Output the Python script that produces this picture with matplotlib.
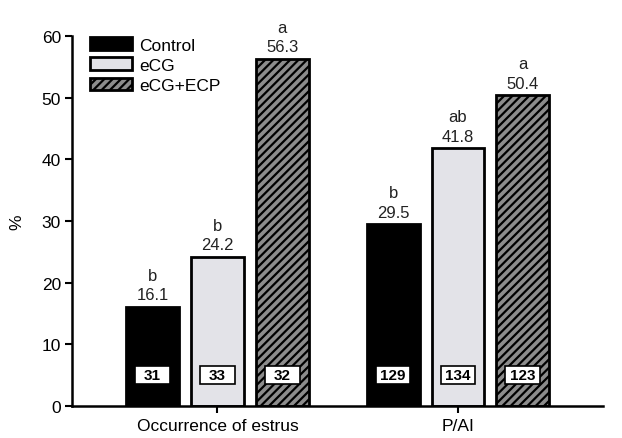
import matplotlib
matplotlib.use("Agg")
import matplotlib.pyplot as plt
from matplotlib.patches import Rectangle
import numpy as np

plt.rcParams['font.family'] = ['Liberation Sans', 'DejaVu Sans']
plt.rcParams['hatch.linewidth'] = 1.6

groups = ["Occurrence of estrus", "P/AI"]
series = ["Control", "eCG", "eCG+ECP"]
values = {
    "Control": [16.1, 29.5],
    "eCG": [24.2, 41.8],
    "eCG+ECP": [56.3, 50.4],
}
letters = {
    "Control": ["b", "b"],
    "eCG": ["b", "ab"],
    "eCG+ECP": ["a", "a"],
}
counts = {
    "Control": ["31", "129"],
    "eCG": ["33", "134"],
    "eCG+ECP": ["32", "123"],
}
yticks = [0, 10, 20, 30, 40, 50, 60]

styles = {
    "Control": dict(facecolor="black", hatch=None),
    "eCG": dict(facecolor="#e3e3e8", hatch=None),
    "eCG+ECP": dict(facecolor="#8c8c8c", hatch="////"),
}

fig = plt.figure(figsize=(6.22, 4.39), dpi=100)
ax = fig.add_axes([72/622, 1-407/439, (603-72)/622, (407-37)/439])

x = np.arange(len(groups))
width = 0.22
offsets = [-0.27, 0.0, 0.27]
box_w, box_h, box_y = 0.145, 3.0, 5.0
handles = []
for s, off in zip(series, offsets):
    st = styles[s]
    bars = ax.bar(x + off, values[s], width, facecolor=st["facecolor"],
                  edgecolor="black", linewidth=2.0, hatch=st["hatch"], label=s)
    handles.append(bars)
    for xi, v, l, c in zip(x + off, values[s], letters[s], counts[s]):
        ax.text(xi, v + 0.7, f"{v:.1f}", ha="center", va="bottom", fontsize=12, color="#222222")
        ax.text(xi, v + 3.9, l, ha="center", va="bottom", fontsize=12, color="#222222")
        ax.add_patch(Rectangle((xi - box_w/2, box_y - box_h/2), box_w, box_h,
                               facecolor="white", edgecolor="black", linewidth=1.2, zorder=3))
        ax.text(xi, box_y, c, ha="center", va="center", fontsize=11, fontweight="bold", zorder=4)

ax.set_xlim(-0.605, 1.603)
ax.set_ylim(0, 60)
ax.set_yticks(yticks)
ax.set_xticks(x)
ax.set_xticklabels(groups, fontsize=12.5)
ax.tick_params(axis='y', labelsize=12.5, direction='out', length=5, width=1.5, pad=3)
ax.tick_params(axis='x', direction='out', length=5, width=1.5, pad=4)
ax.set_ylabel("%", fontsize=12.5, labelpad=12)
for sp in ["top", "right"]:
    ax.spines[sp].set_visible(False)
for sp in ["left", "bottom"]:
    ax.spines[sp].set_linewidth(1.8)

leg = ax.legend(handles=handles, labels=series, loc="upper left", bbox_to_anchor=(0.015, 1.025),
                frameon=False, fontsize=12.5, handlelength=2.4, handleheight=0.75,
                handletextpad=0.4, labelspacing=0.28, borderaxespad=0.2)

fig.savefig("out.png", dpi=100)
